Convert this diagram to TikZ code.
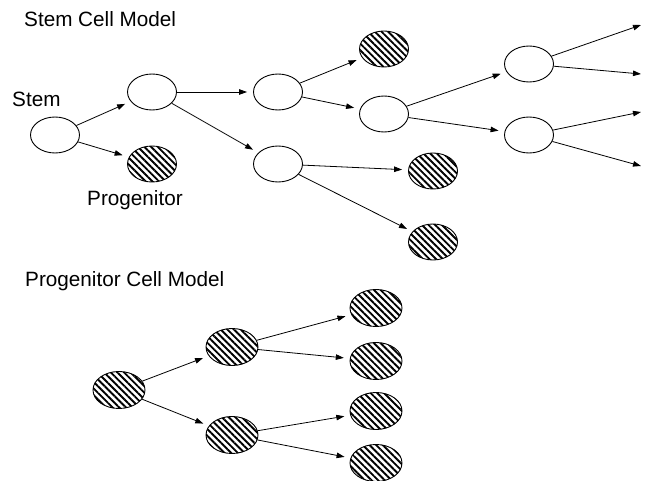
\documentclass[tikz,border=0pt]{standalone}
\usepackage{fontspec}
\setmainfont{Liberation Sans}
\usetikzlibrary{shapes.geometric,arrows.meta,patterns.meta}
\begin{document}
\begin{tikzpicture}[x=1pt,y=-1pt,
  cell/.style={ellipse,draw,line width=0.9pt,minimum width=49pt,minimum height=36pt,inner sep=0pt},
  hcell/.style={cell,pattern={Lines[angle=-45,distance=4.7pt,line width=1.9pt]}},
  bcell/.style={hcell,minimum width=52pt,minimum height=37pt},
  arr/.style={-{Triangle[length=8pt,width=5.5pt]},line width=0.8pt,shorten >=6pt},
  lbl/.style={anchor=base west,inner sep=0pt,font=\fontsize{20.7}{24}\selectfont}]
\useasboundingbox (0,0) rectangle (646,481);
% labels
\node[lbl] (t1) at (24,27) {Stem Cell Model};
\node[lbl] (t2) at (12,107) {Stem};
\node[lbl] (t3) at (87,206) {Progenitor};
\node[lbl] (t4) at (25,287) {Progenitor Cell Model};
% top model
\node[cell] (s) at (55,135) {};
\node[cell] (a1) at (152,92) {};
\node[hcell] (p1) at (152,164) {};
\node[cell] (b1) at (278,92) {};
\node[cell] (b2) at (278,164) {};
\node[hcell] (h1) at (384,49) {};
\node[cell] (c1) at (384,114) {};
\node[hcell] (h2) at (433,171) {};
\node[hcell] (h3) at (433,242) {};
\node[cell] (d1) at (529,64) {};
\node[cell] (d2) at (529,135) {};
\coordinate (e1) at (641,25);
\coordinate (e2) at (641,74);
\coordinate (e3) at (641,112);
\coordinate (e4) at (641,166);
\draw[arr] (s) -- (a1);
\draw[arr] (s) -- (p1);
\draw[arr] (a1) -- (b1);
\draw[arr] (a1) -- (b2);
\draw[arr] (b1) -- (h1);
\draw[arr] (b1) -- (c1);
\draw[arr] (b2) -- (h2);
\draw[arr] (b2) -- (h3);
\draw[arr] (c1) -- (d1);
\draw[arr] (c1) -- (d2);
\draw[arr,shorten >=0pt] (d1) -- (e1);
\draw[arr,shorten >=0pt] (d1) -- (e2);
\draw[arr,shorten >=0pt] (d2) -- (e3);
\draw[arr,shorten >=0pt] (d2) -- (e4);
% bottom model
\node[bcell] (r) at (119,390) {};
\node[bcell] (u) at (232,347) {};
\node[bcell] (l) at (232,435) {};
\node[bcell] (q1) at (376,308) {};
\node[bcell] (q2) at (376,361) {};
\node[bcell] (q3) at (376,411) {};
\node[bcell] (q4) at (376,463) {};
\draw[arr] (r) -- (u);
\draw[arr] (r) -- (l);
\draw[arr] (u) -- (q1);
\draw[arr] (u) -- (q2);
\draw[arr] (l) -- (q3);
\draw[arr] (l) -- (q4);
\end{tikzpicture}
\end{document}
